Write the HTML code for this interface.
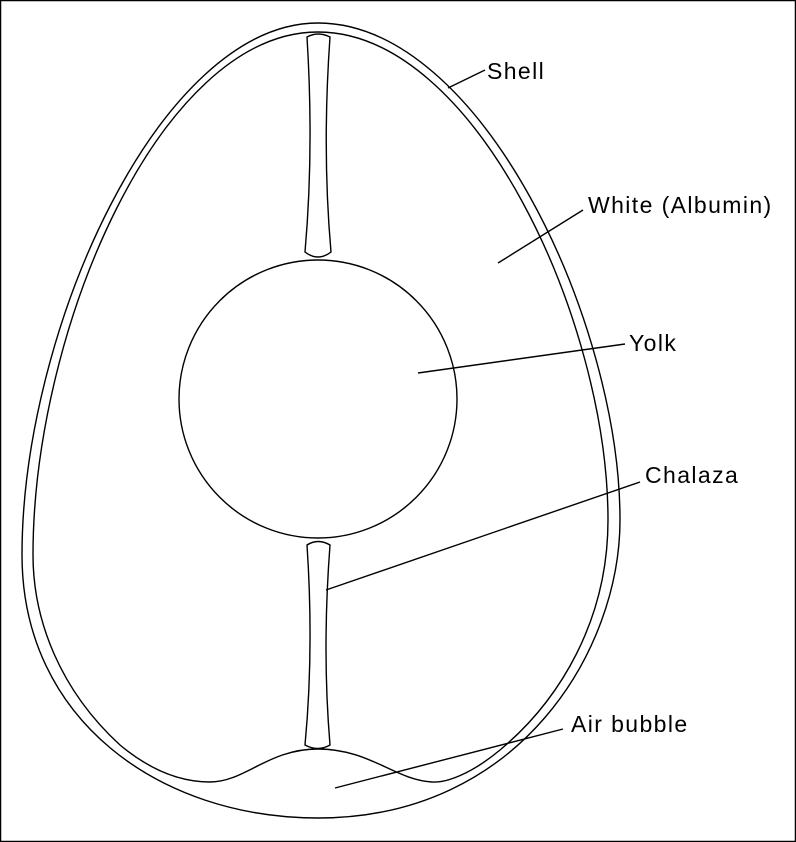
<!DOCTYPE html>
<html><head><style>
html,body{margin:0;padding:0;background:#fff}
svg{display:block}
text{font-family:"Liberation Sans",sans-serif;font-size:23px;letter-spacing:1.4px;fill:#000}
</style></head><body>
<svg width="796" height="842" viewBox="0 0 796 842" xmlns="http://www.w3.org/2000/svg">
<rect x="0.5" y="0.5" width="795" height="841" fill="#fff" stroke="#000" stroke-width="1.5"/>
<g fill="none" stroke="#000" stroke-width="1.4">
<path d="M318,23 C480,23 620,320 620,520 C620,650 520,818 318,818 C160,818 22,720 22,555 C22,330 160,23 318,23 Z"/>
<path d="M318,32 C475,32 608,320 608,520 C608,620 560,700 500,750 C470,775 445,783 432,782 C395,780 370,749 318,749 C268,749 245,782 210,782 C180,782 150,770 120,745 C60,690 33,620 33,555 C33,330 160,32 318,32 Z"/>
<circle cx="318" cy="399" r="139"/>
<path d="M307,37 Q318,31 330,37 Q322,150 331,252 Q318,262 305,252 Q314,150 307,37 Z" fill="#fff"/>
<path d="M307,545 Q318,538 330,545 Q322,650 330,745 Q318,752 305,745 Q314,650 307,545 Z" fill="#fff"/>
<line x1="448" y1="88" x2="485" y2="70"/>
<line x1="498" y1="263" x2="583" y2="210"/>
<line x1="418" y1="373" x2="625" y2="344"/>
<line x1="326" y1="590" x2="640" y2="482"/>
<line x1="335" y1="788" x2="563" y2="729"/>
</g>
<text x="487" y="79">Shell</text>
<text x="588" y="213">White (Albumin)</text>
<text x="629" y="351">Yolk</text>
<text x="645" y="483">Chalaza</text>
<text x="571" y="732">Air bubble</text>
</svg>
</body></html>
